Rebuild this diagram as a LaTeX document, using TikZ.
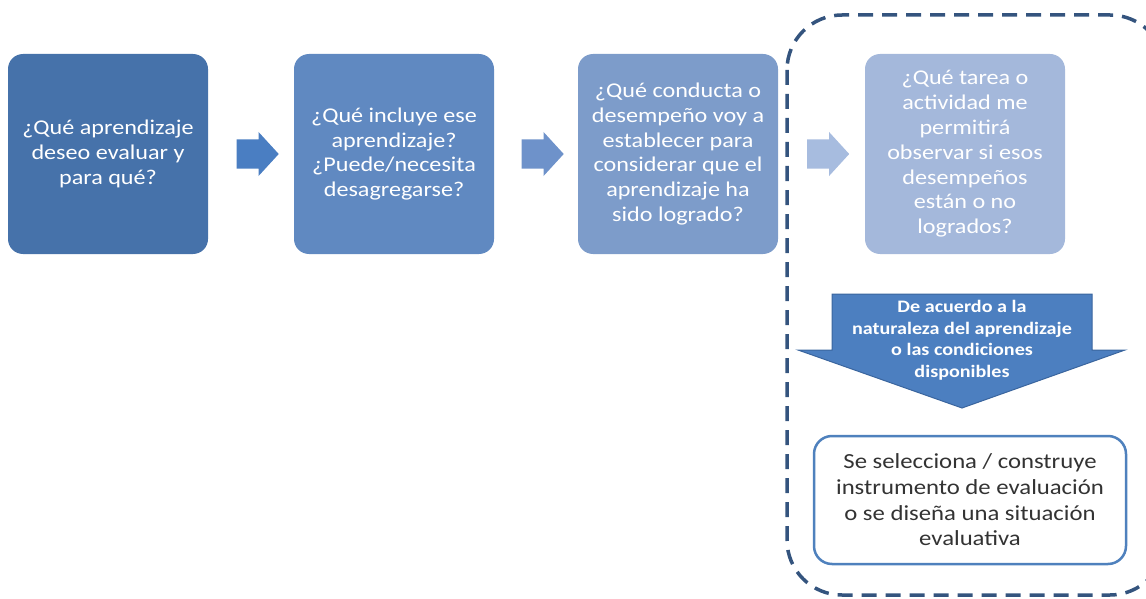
\documentclass[tikz,border=0pt]{standalone}
\usepackage{fontspec}
\setmainfont{Carlito}[FakeStretch=1.15]
\usepackage{tikz}
\usetikzlibrary{calc}
\usetikzlibrary{shapes.arrows}

\definecolor{boxA}{HTML}{4672AA}
\definecolor{boxB}{HTML}{6089C1}
\definecolor{boxC}{HTML}{7D9CCA}
\definecolor{boxD}{HTML}{A4B8DB}
\definecolor{arrA}{HTML}{4A7EC2}
\definecolor{arrB}{HTML}{6E92CA}
\definecolor{arrC}{HTML}{A7BCDF}
\definecolor{dashcol}{HTML}{34547E}
\definecolor{downcol}{HTML}{4C7FC0}
\definecolor{downline}{HTML}{3A659E}
\definecolor{framecol}{HTML}{4F81BD}

\begin{document}
\begin{tikzpicture}[x=1pt,y=-1pt,
  qbox/.style={rounded corners=15pt,minimum width=200pt,minimum height=200pt,
    text=white,align=center,inner sep=0pt,font=\fontsize{21}{24.8}\selectfont},
  rarr/.style={single arrow,single arrow tip angle=95,minimum height=42pt,
    minimum width=44pt,inner xsep=0pt,inner ysep=14pt,draw=none}]
  \useasboundingbox (0,0) rectangle (1146,599);
  \clip (0,0) rectangle (1146,599);
  \node[qbox,fill=boxA] (1) at (108,154) {¿Qué aprendizaje\\deseo evaluar y\\para qué?};
  \node[qbox,fill=boxB] (2) at (394,154) {¿Qué incluye ese\\aprendizaje?\\¿Puede/necesita\\desagregarse?};
  \node[qbox,fill=boxC] (3) at (678,154) {¿Qué conducta o\\desempeño voy a\\establecer para\\considerar que el\\aprendizaje ha\\sido logrado?};
  \node[qbox,fill=boxD] (4) at (965,154) {¿Qué tarea o\\actividad me\\permitirá\\observar si esos\\desempeños\\están o no\\logrados?};
  \node[rarr,fill=arrA] (12) at ($(1.east)!0.5!(2.west)$) {};
  \node[rarr,fill=arrB] (23) at ($(2.east)!0.5!(3.west)$) {};
  \node[rarr,fill=arrC] (34) at ($(3.east)!0.5!(4.west)$) {};
  \draw[dashcol,line width=3.5pt,dash pattern=on 15pt off 9pt,rounded corners=55pt]
    (787,15) rectangle (1165,595);
  \draw[downline,fill=downcol,line width=1pt] (832,294) -- (1092,294) -- (1092,350)
    -- (1125,350) -- (962,408) -- (798,350) -- (832,350) -- cycle;
  \node[text=white,align=center,font=\bfseries\fontsize{17.5}{21.5}\selectfont] (6) at (962,340)
    {De acuerdo a la\\naturaleza del aprendizaje\\o las condiciones\\disponibles};
  \node[draw=framecol,line width=2.5pt,fill=white,rounded corners=18pt,
    minimum width=312pt,minimum height=128pt,align=center,text=black!80,
    font=\fontsize{21.5}{25.6}\selectfont] (5) at (970,500)
    {Se selecciona / construye\\instrumento de evaluación\\o se diseña una situación\\evaluativa};
\end{tikzpicture}
\end{document}
